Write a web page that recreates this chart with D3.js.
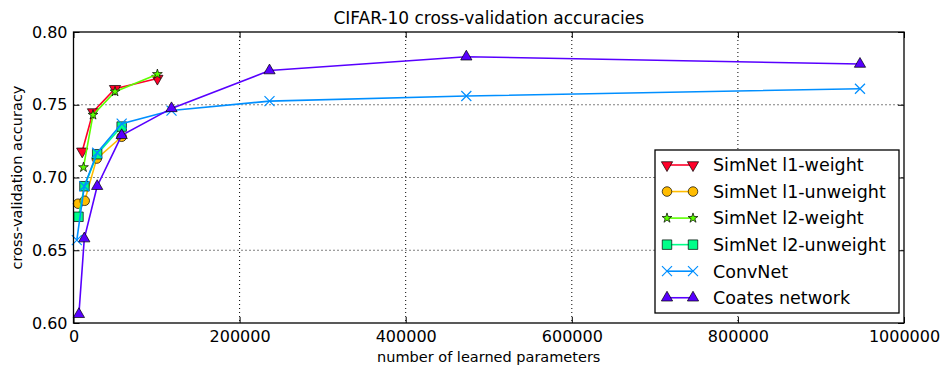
<!DOCTYPE html>
<html><head><meta charset="utf-8">
<script src="https://cdn.jsdelivr.net/npm/d3@7"></script>
<style>
html,body{margin:0;padding:0;background:#fff;}
text{font-family:"DejaVu Sans",sans-serif;fill:#000;}
</style></head>
<body>
<svg id="chart" width="951" height="378"></svg>
<script>
const title = "CIFAR-10 cross-validation accuracies";
const xLabel = "number of learned parameters";
const yLabel = "cross-validation accuracy";
const xTicks = [0, 200000, 400000, 600000, 800000, 1000000];
const yTicks = [0.60, 0.65, 0.70, 0.75, 0.80];

const seriesNames = ["SimNet l1-weight","SimNet l1-unweight","SimNet l2-weight","SimNet l2-unweight","ConvNet","Coates network"];
const seriesColors = ["#ff0029","#ffbc00","#5cff00","#00ff89","#008fff","#5800ff"];
const seriesMarkers = ["triDown","circle","star","square","x","triUp"];

const l1wX = [10500, 23500, 50000, 101000];
const l1wY = [0.718, 0.745, 0.761, 0.768];
const l1uX = [5500, 13500, 28000, 58000];
const l1uY = [0.682, 0.684, 0.713, 0.728];
const l2wX = [12000, 23500, 50000, 101000];
const l2wY = [0.707, 0.743, 0.759, 0.771];
const l2uX = [6000, 13200, 28500, 58000];
const l2uY = [0.673, 0.694, 0.716, 0.735];
const convX = [4000, 13000, 28500, 58000, 118000, 236000, 473000, 947000];
const convY = [0.657, 0.694, 0.717, 0.737, 0.746, 0.7525, 0.756, 0.761];
const coatesX = [6500, 13000, 28500, 58000, 118000, 236000, 473000, 947000];
const coatesY = [0.606, 0.658, 0.694, 0.729, 0.7475, 0.7735, 0.783, 0.778];

const seriesX = [l1wX, l1uX, l2wX, l2uX, convX, coatesX];
const seriesY = [l1wY, l1uY, l2wY, l2uY, convY, coatesY];

const svg = d3.select("#chart");
const L = 73.5, R = 904, T = 32, B = 323;
const x = d3.scaleLinear().domain([0, 1000000]).range([L, R]);
const y = d3.scaleLinear().domain([0.60, 0.80]).range([B, T]);

// grid
const grid = svg.append("g");
xTicks.slice(1, -1).forEach(v => grid.append("line")
  .attr("x1", x(v)).attr("x2", x(v)).attr("y1", T).attr("y2", B)
  .attr("stroke", "#000").attr("stroke-width", 1).attr("stroke-dasharray", "1,3"));
yTicks.slice(1, -1).forEach(v => grid.append("line")
  .attr("x1", L).attr("x2", R).attr("y1", y(v)).attr("y2", y(v))
  .attr("stroke", "#000").attr("stroke-width", 1).attr("stroke-dasharray", "1,3"));

// axes
const fmtY = d3.format(".2f");
const ax = svg.append("g").attr("transform", `translate(0,${B})`)
  .call(d3.axisBottom(x).tickValues(xTicks).tickFormat(d3.format("d")).tickSize(-6).tickPadding(7.5));
const axT = svg.append("g").attr("transform", `translate(0,${T})`)
  .call(d3.axisTop(x).tickValues(xTicks).tickFormat("").tickSize(-6));
const ay = svg.append("g").attr("transform", `translate(${L},0)`)
  .call(d3.axisLeft(y).tickValues(yTicks).tickFormat(fmtY).tickSize(-6).tickPadding(6));
const ayR = svg.append("g").attr("transform", `translate(${R},0)`)
  .call(d3.axisRight(y).tickValues(yTicks).tickFormat("").tickSize(-6));
[ax, axT, ay, ayR].forEach(g => { g.select(".domain").remove(); g.selectAll("line").attr("stroke", "#000").attr("stroke-width", 1); });
ax.selectAll("text").style("font-size", "16px").attr("font-family", "DejaVu Sans");
ay.selectAll("text").style("font-size", "16px").attr("font-family", "DejaVu Sans");

// lines + markers
const plot = svg.append("g");
function drawMarker(g, type, cx, cy, color) {
  if (type === "x") {
    const s = 5;
    g.append("path").attr("d", `M${cx-s},${cy-s}L${cx+s},${cy+s}M${cx-s},${cy+s}L${cx+s},${cy-s}`)
      .attr("stroke", color).attr("stroke-width", 1.2).attr("fill", "none");
    return;
  }
  let sym, size, rot = 0;
  if (type === "triDown") { sym = d3.symbolTriangle; size = 55; rot = 180; }
  else if (type === "triUp") { sym = d3.symbolTriangle; size = 55; }
  else if (type === "circle") { sym = d3.symbolCircle; size = 72; }
  else if (type === "star") { sym = d3.symbolStar; size = 30; }
  else { sym = d3.symbolSquare; size = 90; }
  g.append("path").attr("d", d3.symbol().type(sym).size(size)())
    .attr("transform", `translate(${cx},${cy}) rotate(${rot})`)
    .attr("fill", color).attr("stroke", "#000").attr("stroke-width", 0.7);
}
const lineGen = d3.line().x(d => x(d[0])).y(d => y(d[1]));
seriesNames.forEach((name, i) => {
  const pts = seriesX[i].map((v, j) => [v, seriesY[i][j]]);
  const g = plot.append("g");
  g.append("path").datum(pts).attr("d", lineGen)
    .attr("fill", "none").attr("stroke", seriesColors[i]).attr("stroke-width", 1.6);
  pts.forEach(p => drawMarker(g, seriesMarkers[i], x(p[0]), y(p[1]), seriesColors[i]));
});

// frame
svg.append("rect").attr("x", L).attr("y", T).attr("width", R - L).attr("height", B - T)
  .attr("fill", "none").attr("stroke", "#000").attr("stroke-width", 1.3);

// legend
const lg = svg.append("g");
const lx = 655, ly = 150, lw = 244, lh = 163;
lg.append("rect").attr("x", lx).attr("y", ly).attr("width", lw).attr("height", lh)
  .attr("fill", "#fff").attr("stroke", "#000").attr("stroke-width", 1.3);
seriesNames.forEach((name, i) => {
  const yy = 165 + i * 26.55;
  lg.append("line").attr("x1", 667).attr("x2", 693).attr("y1", yy).attr("y2", yy)
    .attr("stroke", seriesColors[i]).attr("stroke-width", 1.6);
  drawMarker(lg, seriesMarkers[i], 667, yy, seriesColors[i]);
  drawMarker(lg, seriesMarkers[i], 693, yy, seriesColors[i]);
  lg.append("text").attr("x", 713).attr("y", yy).attr("dy", "0.36em")
    .style("font-size", "17.5px").text(name);
});

// labels
svg.append("text").attr("x", (L + R) / 2).attr("y", 24).attr("text-anchor", "middle")
  .style("font-size", "17px").text(title);
svg.append("text").attr("x", (L + R) / 2).attr("y", 362).attr("text-anchor", "middle")
  .style("font-size", "14.5px").text(xLabel);
svg.append("text").attr("transform", `translate(22,${(T + B) / 2}) rotate(-90)`).attr("text-anchor", "middle")
  .style("font-size", "14.5px").text(yLabel);
</script>
</body></html>
